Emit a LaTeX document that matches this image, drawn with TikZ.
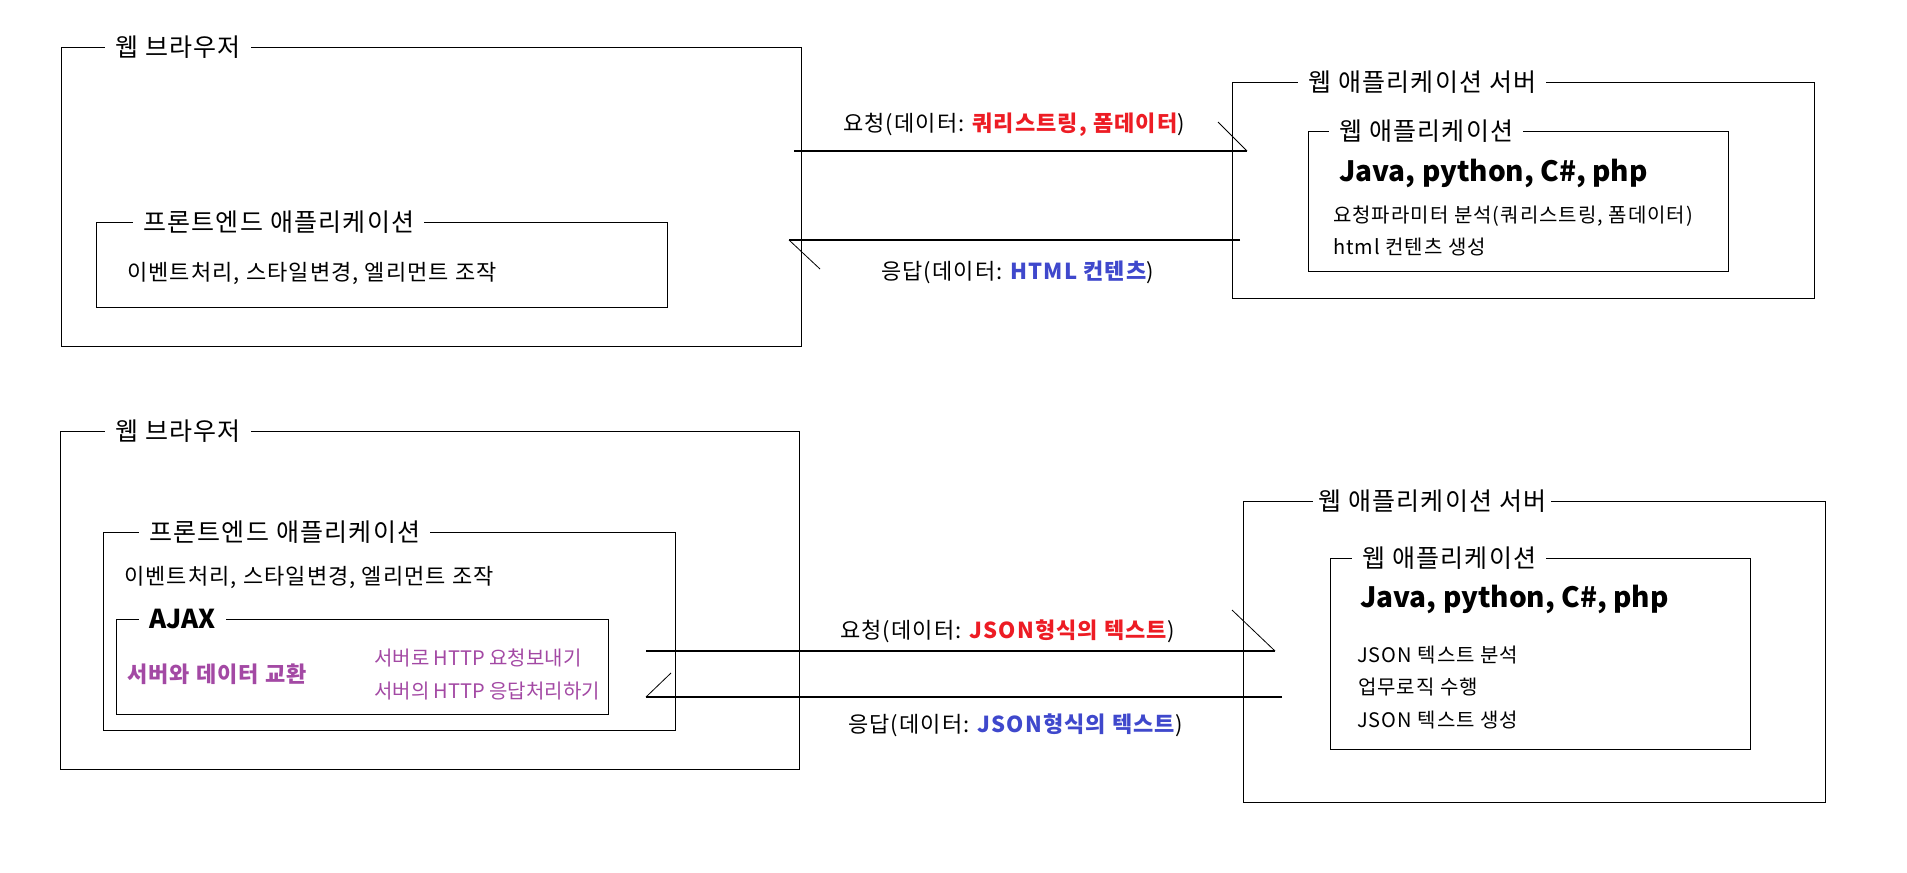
\documentclass[tikz,border=0pt]{standalone}
\usepackage{fontspec}
\setmainfont{Noto Sans CJK KR}[LetterSpace=5]
\newfontfamily\latinfont{Noto Sans CJK KR}
\definecolor{pred}{HTML}{ED1C24}
\definecolor{pblue}{HTML}{3F48CC}
\definecolor{ppurple}{HTML}{A349A4}
\newcommand{\fs}[1]{\fontsize{#1bp}{#1bp}\selectfont}
\begin{document}
\begin{tikzpicture}[x=1bp,y=-1bp,
  box/.style={draw, line width=1.2bp, anchor=north west, inner sep=0pt},
  ttl/.style={fill=white, anchor=base west, inner xsep=10bp, inner ysep=0pt, font=\fs{25}},
  txt/.style={anchor=base west, inner sep=0pt},
  body/.style={txt, font=\fs{20}},
  lbl/.style={txt, font=\fs{22}},
  lang/.style={txt, font=\latinfont\fs{28}\bfseries},
  conn/.style={line width=1.5bp},
  tick/.style={line width=0.8bp}
]
\useasboundingbox (0,0) rectangle (1907,873);

% ---------- top ----------
\node[box, minimum width=740bp, minimum height=299bp] (br1) at (61,47) {};
\node[ttl] (br1t) at (105,56.25) {웹 브라우저};
\node[box, minimum width=571bp, minimum height=85bp] (fe1) at (96,222) {};
\node[ttl] (fe1t) at (133,231.25) {프론트엔드 애플리케이션};
\node[lbl] (fe1x) at (127,280) {이벤트처리, 스타일변경, 엘리먼트 조작};

\node[box, minimum width=582bp, minimum height=216bp] (sv1) at (1232,82) {};
\node[ttl] (sv1t) at (1298,91.25) {웹 애플리케이션 서버};
\node[box, minimum width=420bp, minimum height=140bp] (wa1) at (1308,131) {};
\node[ttl] (wa1t) at (1329,140.25) {웹 애플리케이션};
\node[lang] (wa1j) at (1339,181.5) {Java, python, C\#, php};
\node[body] (wa1a) at (1333,222.4) {요청파라미터 분석(쿼리스트링, 폼데이터)};
\node[body] (wa1b) at (1333,254.4) {html 컨텐츠 생성};

\node[lbl] (rq1) at (843,131) {요청(데이터: \textcolor{pred}{\bfseries 쿼리스트링, 폼데이터})};
\node[lbl] (rs1) at (881,279) {응답(데이터: \textcolor{pblue}{\bfseries HTML 컨텐츠})};

\coordinate (rq1s) at (794,151);
\coordinate (rq1e) at (1247,151);
\coordinate (rq1h) at (1218,122);
\draw[conn] (rq1s) -- (rq1e);
\draw[tick] (rq1e) -- (rq1h);
\coordinate (rs1s) at (1240,240);
\coordinate (rs1e) at (789,240);
\coordinate (rs1h) at (820,269);
\draw[conn] (rs1s) -- (rs1e);
\draw[tick] (rs1e) -- (rs1h);

% ---------- bottom ----------
\node[box, minimum width=739bp, minimum height=338bp] (br2) at (60,431) {};
\node[ttl] (br2t) at (105,440.25) {웹 브라우저};
\node[box, minimum width=572bp, minimum height=198bp] (fe2) at (103,532) {};
\node[ttl] (fe2t) at (139,541.25) {프론트엔드 애플리케이션};
\node[lbl] (fe2x) at (124,584) {이벤트처리, 스타일변경, 엘리먼트 조작};

\node[box, minimum width=492bp, minimum height=95bp] (aj) at (116,619) {};
\node[ttl, font=\latinfont\fs{26}\bfseries] (ajt) at (139,628.5) {AJAX};
\node[txt, text=ppurple, font=\fs{22}\bfseries] (aj1) at (127,682.1) {서버와 데이터 교환};
\node[txt, text=ppurple, font=\latinfont\fs{20}] (aj2) at (374,665.4) {서버로 HTTP 요청보내기};
\node[txt, text=ppurple, font=\latinfont\fs{20}] (aj3) at (374,698.4) {서버의 HTTP 응답처리하기};

\node[box, minimum width=582bp, minimum height=301bp] (sv2) at (1243,501) {};
\node[ttl, inner xsep=5bp] (sv2t) at (1313,510.25) {웹 애플리케이션 서버};
\node[box, minimum width=420bp, minimum height=191bp] (wa2) at (1330,558) {};
\node[ttl] (wa2t) at (1352,567.25) {웹 애플리케이션};
\node[lang] (wa2j) at (1360,607) {Java, python, C\#, php};
\node[body] (wa2a) at (1357,662.4) {JSON 텍스트 분석};
\node[body] (wa2b) at (1358,694.4) {업무로직 수행};
\node[body] (wa2c) at (1357,727.4) {JSON 텍스트 생성};

\node[lbl] (rq2) at (840,638) {요청(데이터: \textcolor{pred}{\bfseries JSON형식의 텍스트})};
\node[lbl] (rs2) at (848,732) {응답(데이터: \textcolor{pblue}{\bfseries JSON형식의 텍스트})};

\coordinate (rq2s) at (646,651);
\coordinate (rq2e) at (1275,651);
\coordinate (rq2h) at (1232,610);
\draw[conn] (rq2s) -- (rq2e);
\draw[tick] (rq2e) -- (rq2h);
\coordinate (rs2s) at (1282,697);
\coordinate (rs2e) at (646,697);
\coordinate (rs2h) at (671,673);
\draw[conn] (rs2s) -- (rs2e);
\draw[tick] (rs2e) -- (rs2h);
\end{tikzpicture}
\end{document}
